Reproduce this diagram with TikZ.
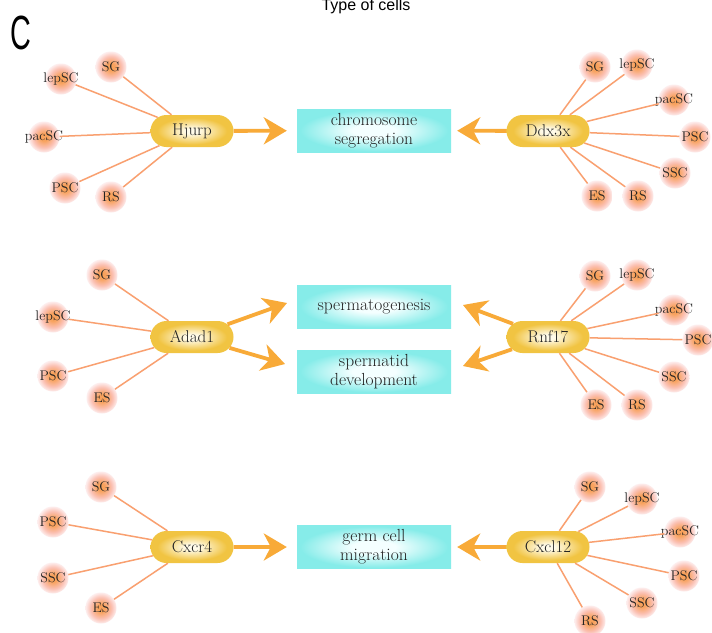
\documentclass[tikz,border=0pt]{standalone}
\usepackage{fontspec}
\newfontfamily\arialf{Liberation Sans}
\usetikzlibrary{shapes.misc,arrows.meta}
\definecolor{linec}{HTML}{F9A070}
\definecolor{arrc}{HTML}{F8AA38}
\definecolor{pillout}{HTML}{F1C442}
\definecolor{pillin}{HTML}{FFFBEA}
\definecolor{boxout}{HTML}{86ECE9}
\definecolor{boxin}{HTML}{F4FFFF}
\definecolor{cin}{HTML}{F8A25C}
\definecolor{cmid}{HTML}{FBC0B2}
\definecolor{cout}{HTML}{FDEEEE}
\definecolor{txt}{HTML}{222222}
\pgfdeclareradialshading{glowshade}{\pgfpoint{0bp}{0bp}}{color(0bp)=(cin); color(6bp)=(cin); color(17bp)=(cmid); color(25bp)=(cout); color(50bp)=(cout)}
\pgfdeclareradialshading{pillshade}{\pgfpoint{0bp}{0bp}}{color(0bp)=(pillin); color(4bp)=(pillin); color(21bp)=(pillout); color(50bp)=(pillout)}
\pgfdeclareradialshading{boxshade}{\pgfpoint{0bp}{0bp}}{color(0bp)=(boxin); color(7bp)=(boxin); color(24bp)=(boxout); color(50bp)=(boxout)}
\tikzset{
  cell/.style={circle, minimum size=31pt, inner sep=0pt, shading=glowshade,
    label={[font=\fontsize{14}{16}\selectfont, text=txt, inner sep=0pt]center:#1}},
  gene/.style={rounded rectangle, minimum width=83pt, minimum height=32pt, inner sep=0pt,
    shading=pillshade, font=\fontsize{17}{19}\selectfont, text=txt},
  term/.style={rectangle, minimum width=154pt, minimum height=43pt, inner sep=0pt,
    shading=boxshade, align=center, font=\fontsize{17.5}{19}\selectfont, text=txt},
  link/.style={linec, line width=1.5pt},
  arr/.style={arrc, line width=3.8pt, -{Stealth[length=23pt,width=27pt,inset=7pt]}}
}
\begin{document}
\begin{tikzpicture}[x=1pt,y=-1pt]
\useasboundingbox[fill=white] (0,0) rectangle (712,632);
% title and panel label
\node[font=\arialf\fontsize{16}{18}\selectfont, anchor=base, text=black] (title) at (366,10) {Type of cells};
\node[font=\arialf\fontsize{48}{50}\selectfont, anchor=base, text=black] (panel) at (21,49) {\scalebox{0.6}[1]{C}};

% ---------- row 1 ----------
\node[term] (seg) at (374,130.5) {chromosome\\segregation};
\node[gene] (hj) at (192,131) {Hjurp};
\node[gene] (dd) at (548,131) {Ddx3x};
\node[cell=SG] (hj1) at (111,67) {};
\node[cell=lepSC] (hj2) at (61,79) {};
\node[cell=pacSC] (hj3) at (44,137) {};
\node[cell=PSC] (hj4) at (65,188) {};
\node[cell=RS] (hj5) at (111,197) {};
\node[cell=SG] (dd1) at (595,67) {};
\node[cell=lepSC] (dd2) at (637,65) {};
\node[cell=pacSC] (dd3) at (674,100) {};
\node[cell=PSC] (dd4) at (695,137) {};
\node[cell=SSC] (dd5) at (675,173) {};
\node[cell=RS] (dd6) at (638,196) {};
\node[cell=ES] (dd7) at (597,196) {};
\foreach \i in {1,...,5} \draw[link] (hj\i) -- (hj);
\foreach \i in {1,...,7} \draw[link] (dd\i) -- (dd);
\draw[arr, shorten >=10pt] (hj) -- (seg);
\draw[arr, shorten >=6pt] (dd) -- (seg);

% ---------- row 2 ----------
\node[term] (spg) at (374,306.5) {spermatogenesis};
\node[term] (sdv) at (374,371.5) {spermatid\\development};
\node[gene] (ad) at (192,337) {Adad1};
\node[gene] (rn) at (548,337) {Rnf17};
\node[cell=SG] (ad1) at (102,275) {};
\node[cell=lepSC] (ad2) at (53,317) {};
\node[cell=PSC] (ad3) at (53,376) {};
\node[cell=ES] (ad4) at (102,398) {};
\node[cell=SG] (rn1) at (595,276) {};
\node[cell=lepSC] (rn2) at (637,275) {};
\node[cell=pacSC] (rn3) at (674,310) {};
\node[cell=PSC] (rn4) at (698,340) {};
\node[cell=SSC] (rn5) at (674,377) {};
\node[cell=RS] (rn6) at (637,405) {};
\node[cell=ES] (rn7) at (596,405) {};
\foreach \i in {1,...,4} \draw[link] (ad\i) -- (ad);
\foreach \i in {1,...,7} \draw[link] (rn\i) -- (rn);
\coordinate (t1) at (287,303);
\coordinate (t2) at (285,364);
\coordinate (t3) at (463,305);
\coordinate (t4) at (463,366);
\draw[arr] (ad) -- (t1);
\draw[arr] (ad) -- (t2);
\draw[arr] (rn) -- (t3);
\draw[arr] (rn) -- (t4);

% ---------- row 3 ----------
\node[term] (gcm) at (374,547) {germ cell\\migration};
\node[gene] (cr) at (192,547) {Cxcr4};
\node[gene] (cl) at (548,547) {Cxcl12};
\node[cell=SG] (cr1) at (101,487) {};
\node[cell=PSC] (cr2) at (53,522) {};
\node[cell=SSC] (cr3) at (53,578) {};
\node[cell=ES] (cr4) at (101,608) {};
\node[cell=SG] (cl1) at (590,487) {};
\node[cell=lepSC] (cl2) at (642,499) {};
\node[cell=pacSC] (cl3) at (680,532) {};
\node[cell=PSC] (cl4) at (684,576) {};
\node[cell=SSC] (cl5) at (642,603) {};
\node[cell=RS] (cl6) at (590,621) {};
\foreach \i in {1,...,4} \draw[link] (cr\i) -- (cr);
\foreach \i in {1,...,6} \draw[link] (cl\i) -- (cl);
\draw[arr, shorten >=10pt] (cr) -- (gcm);
\draw[arr, shorten >=6pt] (cl) -- (gcm);
\end{tikzpicture}
\end{document}
